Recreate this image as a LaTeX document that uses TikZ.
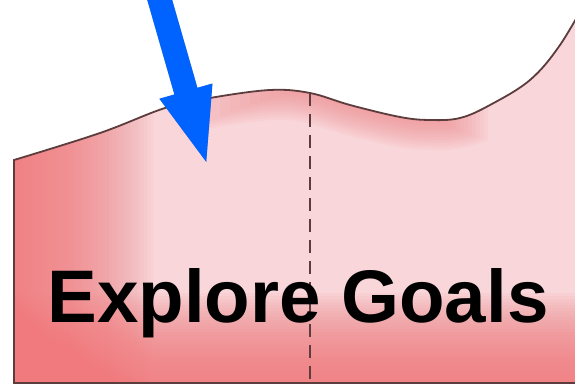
\documentclass[tikz,border=0pt]{standalone}
\usepackage{fontspec}
\setmainfont{Liberation Sans}
\usepackage{tikz}
\usetikzlibrary{arrows.meta}
\definecolor{rimbrown}{RGB}{92,60,60}
\definecolor{pinklight}{RGB}{249,214,217}
\definecolor{pinkdeep}{RGB}{240,122,125}
\definecolor{arrowblue}{RGB}{0,98,255}

\begin{document}
\begin{tikzpicture}[x=1pt, y=1pt,
    rim/.style={draw=rimbrown, line width=1.8pt},
    topcurve/.style={insert path={-- plot[smooth, tension=0.6] coordinates {(14,226) (100,253) (165,278)
      (210,288) (270,296) (310,293) (350,281) (400,269) (430,266) (460,268) (490,281) (530,306)
      (560,341) (590,392)}}},
    glowlayer/.style={pinkdeep, opacity=0.06},
    goalarrow/.style={line width=24pt, -{Triangle[length=80pt, width=48pt]}}]
  \useasboundingbox (0,0) rectangle (575,386);
  \begin{scope}
    \clip (14,3) [topcurve] -- (600,392) -- (600,3) -- cycle;
    \fill[pinklight] (0,0) rectangle (600,400);
    \foreach \i in {1,...,40}
      \fill[glowlayer, opacity=0.045] (14,0) rectangle ({14+3.5*\i},400);
    \foreach \i in {1,...,30}
      \fill[glowlayer] (0,0) rectangle (600,{3+3*\i});
    \foreach \i in {1,...,12} {
      \begin{scope}
        \clip ({300-10*\i},200) rectangle ({440+4*\i},400);
        \draw[glowlayer, line width=5*\i pt] (14,226) [topcurve];
      \end{scope}
    }
  \end{scope}
  \draw[rim] (600,3) -- (14,3) [topcurve];
  \coordinate (divtop) at (310,293);
  \coordinate (divbot) at (310,3);
  \draw[rimbrown, line width=1.5pt, dash pattern=on 13pt off 8pt] (divtop) -- (divbot);
  \coordinate (arrowstart) at (158,392);
  \coordinate (arrowtip) at (208,218);
  \draw[goalarrow, black, opacity=0.25, shift={(4pt,-4pt)}] (arrowstart) -- (arrowtip);
  \draw[goalarrow, arrowblue] (arrowstart) -- (arrowtip);
  \node[font=\bfseries\fontsize{74.5}{80}\selectfont, anchor=base, inner sep=0pt] (goals) at (298,64) {Explore Goals};
\end{tikzpicture}
\end{document}
